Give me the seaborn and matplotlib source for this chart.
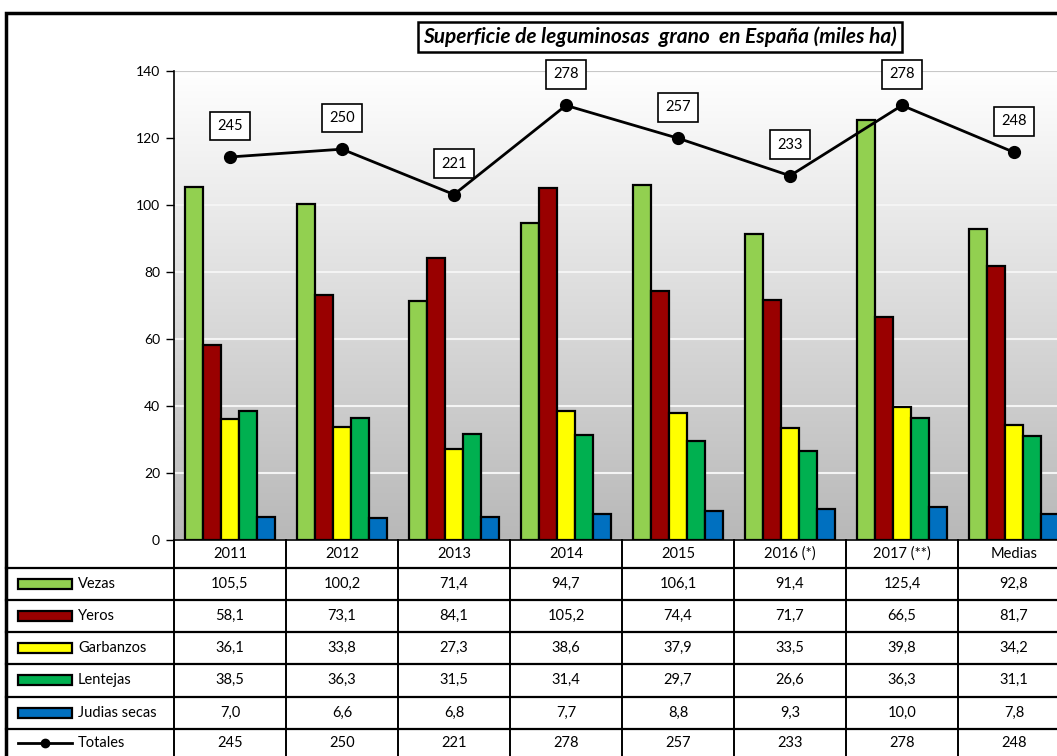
import numpy as np
import pandas as pd
import seaborn as sns
import matplotlib.pyplot as plt
import matplotlib.transforms as mtransforms
from matplotlib.colors import LinearSegmentedColormap
from matplotlib.patches import Rectangle
from matplotlib.lines import Line2D

# Data (miles ha)
years = ['2011', '2012', '2013', '2014', '2015', '2016 (*)', '2017 (**)', 'Medias']
series = ['Vezas', 'Yeros', 'Garbanzos', 'Lentejas', 'Judias secas']
vezas = [105.5, 100.2, 71.4, 94.7, 106.1, 91.4, 125.4, 92.8]
yeros = [58.1, 73.1, 84.1, 105.2, 74.4, 71.7, 66.5, 81.7]
garbanzos = [36.1, 33.8, 27.3, 38.6, 37.9, 33.5, 39.8, 34.2]
lentejas = [38.5, 36.3, 31.5, 31.4, 29.7, 26.6, 36.3, 31.1]
judias = [7.0, 6.6, 6.8, 7.7, 8.8, 9.3, 10.0, 7.8]
totales = [245, 250, 221, 278, 257, 233, 278, 248]
colors = ['#92D050', '#990000', '#FFFF00', '#00B050', '#0070C0']

values = [vezas, yeros, garbanzos, lentejas, judias]
df = pd.DataFrame({
    'year': years * len(series),
    'serie': [s for s in series for _ in years],
    'value': [v for vals in values for v in vals],
})

plt.rcParams['font.family'] = ['Lato', 'DejaVu Sans']

W, H = 1057, 756
fig = plt.figure(figsize=(W / 100, H / 100), dpi=100)


def fx(x):
    return x / W


def fy(y):
    return 1 - y / H


ax = fig.add_axes([fx(174), fy(540), (1070 - 174) / W, (540 - 71) / H])

sns.barplot(data=df, x='year', y='value', hue='serie', palette=colors, saturation=1,
            edgecolor='black', linewidth=1.6, width=0.8, ax=ax, legend=False)

# gradient background: white at top, gray at bottom
cmap = LinearSegmentedColormap.from_list('bg', ['#ffffff', '#b8b8b8'])
grad = np.linspace(1, 0, 256).reshape(-1, 1)
ax.imshow(grad, extent=[-0.5, 7.5, 0, 140], aspect='auto', cmap=cmap,
          zorder=0, origin='lower')
ax.set_xlim(-0.5, 7.5)
ax.set_ylim(0, 140)
ax.set_yticks(range(0, 141, 20))
ax.set_axisbelow(True)
ax.yaxis.grid(True, color='#f4f4f4', lw=1.5)
ax.axhline(140, color='#c8c8c8', lw=1.5, zorder=0.6)
for s in ['top', 'right', 'bottom']:
    ax.spines[s].set_visible(False)
ax.spines['left'].set_color('black')
ax.spines['left'].set_linewidth(1.2)
ax.tick_params(axis='y', length=6, width=1, labelsize=10, pad=4)
ax.tick_params(axis='x', length=0, labelbottom=False)
ax.set_xlabel('')
ax.set_ylabel('')

# totals line on hidden secondary axis
ax2 = ax.twinx()
sns.pointplot(x=years, y=totales, ax=ax2, color='black', markers='o',
              markersize=8, linewidth=2)
ax2.set_ylim(0, 300)
ax2.set_xlim(-0.5, 7.5)
ax2.axis('off')
for i, t in enumerate(totales):
    ax2.annotate(str(t), (i, t), xytext=(0, 31), textcoords='offset pixels',
                 ha='center', va='center', fontsize=10.5,
                 bbox=dict(boxstyle='square,pad=0.5', fc='white', ec='black', lw=1.2))

# title
fig.text(fx(660), fy(37), 'Superficie de leguminosas  grano  en España (miles ha)',
         ha='center', va='center', fontsize=15, fontweight='bold', fontstyle='italic',
         bbox=dict(boxstyle='square,pad=0.25', fc='white', ec='black', lw=1.8))

# data table
blend = mtransforms.blended_transform_factory(ax.transData, fig.transFigure)
row_lines = [568, 600, 632, 664, 697, 729]
row_centers = [584, 616, 648, 680, 713, 743]
for y in row_lines:
    fig.add_artist(Line2D([fx(6), fx(1070)], [fy(y), fy(y)], color='black', lw=1.6))
fig.add_artist(Line2D([fx(174), fx(1070)], [fy(540), fy(540)], color='black', lw=1.2))
for i in range(len(years) + 1):
    ax.add_artist(Line2D([i - 0.5, i - 0.5], [fy(540), fy(760)], color='black',
                         lw=1.4, transform=blend, clip_on=False))
for i, yr in enumerate(years):
    ax.text(i, fy(554), yr, transform=blend, ha='center', va='center', fontsize=10.5)

rows = values + [totales]
for r, (name, vals) in enumerate(zip(series + ['Totales'], rows)):
    yc = row_centers[r]
    for i, v in enumerate(vals):
        txt = str(v) if r == len(series) else f'{v:.1f}'.replace('.', ',')
        ax.text(i, fy(yc), txt, transform=blend, ha='center', va='center', fontsize=10.5)
    if r < len(series):
        fig.add_artist(Rectangle((fx(18), fy(yc + 5)), fx(54), 10 / H,
                                 fc=colors[r], ec='black', lw=1.6))
    else:
        fig.add_artist(Line2D([fx(18), fx(72)], [fy(yc), fy(yc)], color='black', lw=2))
        fig.add_artist(Line2D([fx(45)], [fy(yc)], color='black', marker='o', markersize=6))
    fig.text(fx(78), fy(yc), name, ha='left', va='center', fontsize=10.5)

# outer frame
fig.add_artist(Rectangle((fx(6), fy(1000)), fx(1200), (1000 - 13) / H,
                         fill=False, ec='black', lw=2.5))

plt.savefig('out.png', dpi=100)
